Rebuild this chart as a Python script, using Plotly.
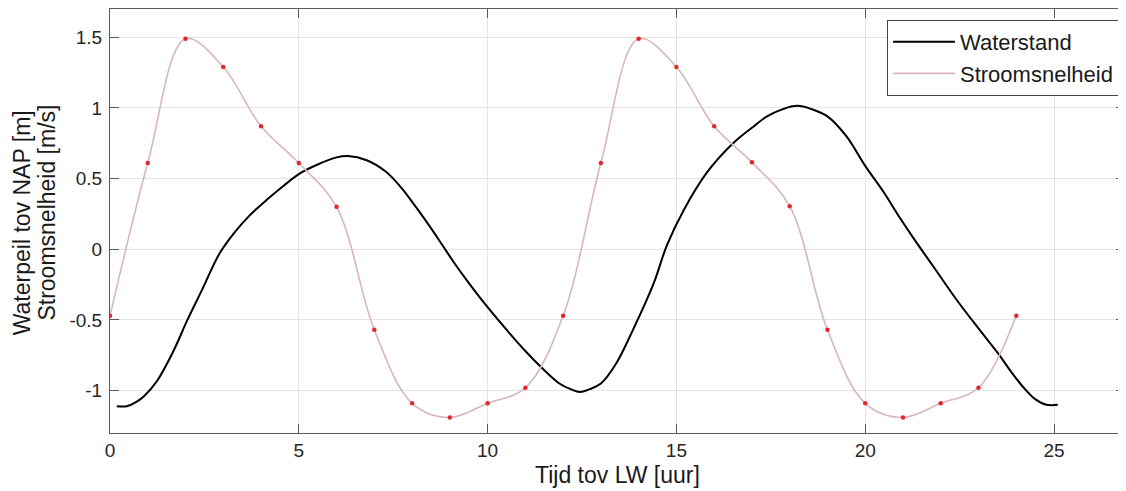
import plotly.graph_objects as go

# ---- data ----
tijd_water = [0.18, 0.45, 0.7, 0.9, 1.25, 1.68, 2.05, 2.45, 2.9, 3.3, 3.7, 4.15, 4.6,
              5.05, 5.5, 6.0, 6.3, 6.8, 7.3, 7.7, 8.1, 8.5, 8.8, 9.1, 9.45, 10.0,
              10.6, 11.0, 11.4, 11.9, 12.2, 12.45, 12.7, 13.0, 13.4, 13.85, 14.4,
              14.75, 15.2, 15.8, 16.5, 17.0, 17.4, 17.8, 18.2, 18.6, 19.0, 19.5,
              20.0, 20.5, 20.9, 21.3, 21.8, 22.4, 23.0, 23.5, 23.9, 24.2, 24.5,
              24.8, 25.1]
waterstand = [-1.11, -1.11, -1.08, -1.04, -0.93, -0.72, -0.50, -0.28, -0.03, 0.12, 0.24,
              0.35, 0.45, 0.54, 0.60, 0.65, 0.66, 0.63, 0.55, 0.44, 0.30, 0.15, 0.03,
              -0.09, -0.22, -0.41, -0.60, -0.72, -0.83, -0.95, -0.99, -1.01, -0.99,
              -0.95, -0.81, -0.57, -0.24, 0.03, 0.28, 0.54, 0.75, 0.86, 0.94, 0.99,
              1.015, 0.99, 0.94, 0.80, 0.59, 0.40, 0.23, 0.07, -0.12, -0.35, -0.56,
              -0.73, -0.88, -0.98, -1.06, -1.10, -1.10]

tijd_stroom = list(range(0, 25))
stroomsnelheid = [-0.47, 0.61, 1.49, 1.29, 0.87, 0.61, 0.30, -0.57, -1.09, -1.19, -1.09,
                  -0.98, -0.47, 0.61, 1.49, 1.29, 0.87, 0.615, 0.305, -0.57, -1.09,
                  -1.19, -1.09, -0.98, -0.47]

x_ticks = [0, 5, 10, 15, 20, 25]
x_ticktext = ["0", "5", "10", "15", "20", "25"]
y_ticks = [-1, -0.5, 0, 0.5, 1, 1.5]
y_ticktext = ["-1", "-0.5", "0", "0.5", "1", "1.5"]

FONT = "Liberation Sans, Arial, sans-serif"

fig = go.Figure()
fig.add_trace(go.Scatter(
    x=tijd_water, y=waterstand, mode="lines", name="Waterstand",
    line=dict(color="#000000", width=2, shape="spline", smoothing=1.0)))
fig.add_trace(go.Scatter(
    x=tijd_stroom, y=stroomsnelheid, mode="lines", name="Stroomsnelheid",
    line=dict(color="#d8b6ba", width=1.6, shape="spline", smoothing=1.0)))
fig.add_trace(go.Scatter(
    x=tijd_stroom, y=stroomsnelheid, mode="markers", showlegend=False,
    marker=dict(color="#e2262b", size=4.5)))

axis_common = dict(
    showline=True, linecolor="#5a5a5a", linewidth=1, mirror="ticks",
    ticks="inside", ticklen=9, tickcolor="#5a5a5a", tickwidth=1,
    showgrid=True, gridcolor="#e4e4e4", gridwidth=1, zeroline=False,
    tickfont=dict(family=FONT, size=19, color="#262626"),
)

# page body adds an 8px offset, so the figure is 8px smaller than the window
fig.update_layout(
    width=1118, height=483,
    margin=dict(l=102, r=1, t=1, b=58),
    paper_bgcolor="white", plot_bgcolor="white",
    font=dict(family=FONT, color="#1a1a1a"),
    xaxis=dict(range=[0, 26.88], tickvals=x_ticks, ticktext=x_ticktext, **axis_common),
    yaxis=dict(range=[-1.3, 1.7], tickvals=y_ticks, ticktext=y_ticktext,
               ticklabelstandoff=3, **axis_common),
    legend=dict(
        x=0.9941, y=0.974, xanchor="right", yanchor="top",
        bgcolor="white", bordercolor="#444444", borderwidth=1,
        font=dict(family=FONT, size=22, color="#1a1a1a"),
        tracegroupgap=0, itemwidth=62,
    ),
    annotations=[
        dict(text="Tijd tov LW [uur]", xref="paper", yref="paper", x=0.5, y=-0.099,
             xanchor="center", yanchor="middle", showarrow=False,
             font=dict(family=FONT, size=23, color="#1a1a1a")),
        dict(text="Waterpeil tov NAP [m]", xref="paper", yref="paper",
             x=-0.0867, y=0.497, xanchor="center", yanchor="middle", showarrow=False,
             textangle=-90, font=dict(family=FONT, size=23, color="#1a1a1a")),
        dict(text="Stroomsnelheid [m/s]", xref="paper", yref="paper",
             x=-0.0630, y=0.52, xanchor="center", yanchor="middle", showarrow=False,
             textangle=-90, font=dict(family=FONT, size=23, color="#1a1a1a")),
    ],
)

fig.write_html("out.html")
